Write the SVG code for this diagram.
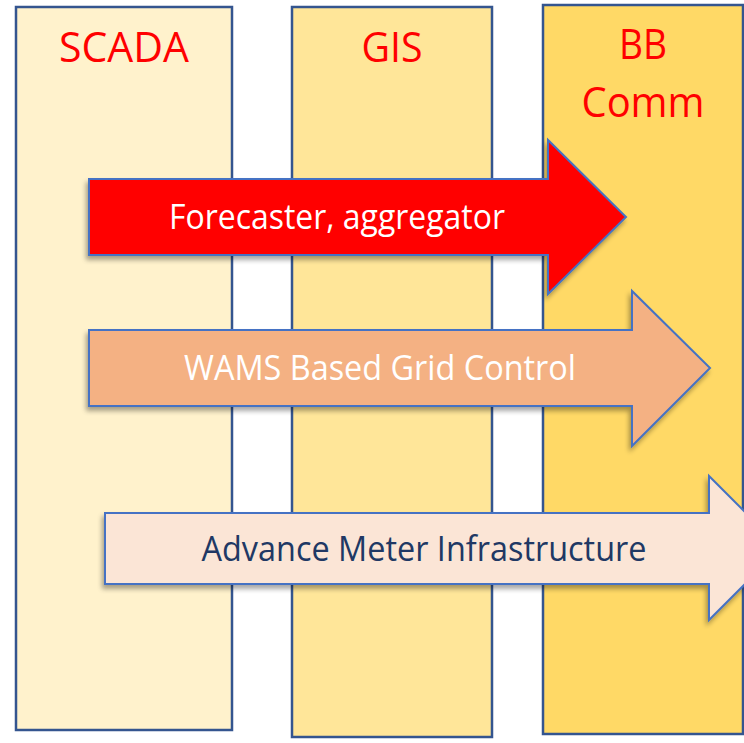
<svg xmlns="http://www.w3.org/2000/svg" width="744" height="743" viewBox="0 0 744 743">
  <defs>
    <filter id="shadow" x="-10%" y="-20%" width="120%" height="140%">
      <feGaussianBlur in="SourceAlpha" stdDeviation="2.5"/>
      <feOffset dx="-2" dy="4" result="off"/>
      <feComponentTransfer><feFuncA type="linear" slope="0.35"/></feComponentTransfer>
      <feMerge><feMergeNode/><feMergeNode in="SourceGraphic"/></feMerge>
    </filter>
  </defs>
  <style>
    .col { stroke: #34558F; stroke-width: 2.5; }
    .title { font-family: "Open Sans", "Noto Sans", "Liberation Sans", sans-serif; font-size: 42px; fill: #FF0000; text-anchor: middle; }
    .arrow { stroke: #4472C4; stroke-width: 2; stroke-linejoin: miter; filter: url(#shadow); }
    .label { font-family: "Open Sans", "Noto Sans", "Liberation Sans", sans-serif; font-size: 34px; text-anchor: middle; }
  </style>

  <rect width="744" height="743" fill="#FFFFFF"/>

  <!-- Columns -->
  <g id="col-scada">
    <rect class="col" x="16" y="7" width="216" height="723" fill="#FFF2CC"/>
    <text class="title" x="124" y="62" textLength="130" lengthAdjust="spacingAndGlyphs">SCADA</text>
  </g>
  <g id="col-gis">
    <rect class="col" x="292" y="7" width="200" height="730" fill="#FFE699"/>
    <text class="title" x="392" y="62" textLength="61" lengthAdjust="spacingAndGlyphs">GIS</text>
  </g>
  <g id="col-bbcomm">
    <rect class="col" x="543" y="5" width="200" height="729" fill="#FFD966"/>
    <text class="title" x="643" y="59" textLength="48" lengthAdjust="spacingAndGlyphs">BB</text>
    <text class="title" x="643" y="117" textLength="123" lengthAdjust="spacingAndGlyphs">Comm</text>
  </g>

  <!-- Block arrows -->
  <g id="arrow-forecaster">
    <polygon class="arrow" fill="#FF0000" points="89,179 548,179 548,140 626,217 548,294 548,255 89,255"/>
    <text class="label" x="337" y="229" fill="#FFFFFF" textLength="336" lengthAdjust="spacingAndGlyphs">Forecaster, aggregator</text>
  </g>
  <g id="arrow-wams">
    <polygon class="arrow" fill="#F4B183" points="89,330 632,330 632,291 710,368 632,446 632,406 89,406"/>
    <text class="label" x="380" y="380" fill="#FFFFFF" textLength="392" lengthAdjust="spacingAndGlyphs">WAMS Based Grid Control</text>
  </g>
  <g id="arrow-ami">
    <polygon class="arrow" fill="#FBE5D6" points="105,513 709,513 709,476 781,548 709,620 709,584 105,584"/>
    <text class="label" x="424" y="561" fill="#203864" textLength="445" lengthAdjust="spacingAndGlyphs">Advance Meter Infrastructure</text>
  </g>

  <g id="connectors"/>
</svg>
